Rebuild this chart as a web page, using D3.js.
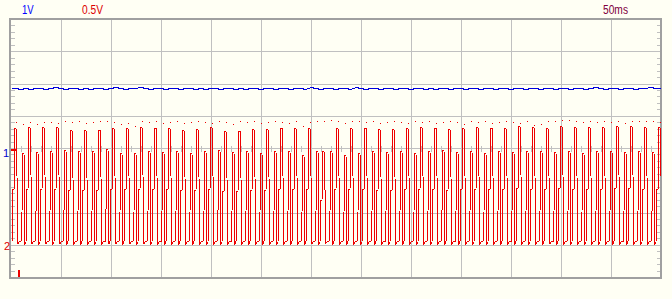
<!DOCTYPE html>
<html><head><meta charset="utf-8">
<script src="https://cdn.jsdelivr.net/npm/d3@7"></script>
<style>html,body{margin:0;padding:0;background:#fffff4;overflow:hidden}svg{display:block}</style>
</head><body>
<svg id="c" width="672" height="299"></svg>
<script>
// ---- labels / settings ----
const ch1Scale = "1V";
const ch2Scale = "0.5V";
const timeScale = "50ms";
const ch1VoltsPerDiv = 1;
const ch2VoltsPerDiv = 0.5;
const msPerDiv = 50;
const timeDivs = 13;
const ch1GroundDiv = 0;
const ch2GroundDiv = -3;
const triggerTime = 8;      // ms
const triggerLevel = 1.47;  // V on channel 2

// ---- channel 1 (blue), one sample each 5 ms, volts ----
const ch1Times = d3.range(0, 651, 5);
const ch1Volts = [
1.845,1.845,1.814,1.845,1.814,1.845,1.845,1.814,1.845,1.876,
1.845,1.814,1.845,1.845,1.814,1.845,1.814,1.845,1.845,1.814,
1.845,1.876,1.845,1.814,1.845,1.845,1.876,1.845,1.814,1.845,
1.845,1.814,1.845,1.845,1.814,1.845,1.845,1.814,1.845,1.814,
1.845,1.845,1.814,1.845,1.845,1.814,1.845,1.814,1.845,1.845,
1.814,1.845,1.845,1.814,1.845,1.845,1.814,1.845,1.845,1.814,
1.876,1.845,1.814,1.845,1.845,1.814,1.845,1.845,1.814,1.876,
1.845,1.814,1.845,1.845,1.814,1.845,1.845,1.814,1.845,1.845,
1.814,1.845,1.845,1.814,1.845,1.814,1.845,1.845,1.814,1.845,
1.845,1.814,1.845,1.845,1.814,1.845,1.845,1.814,1.845,1.845,
1.814,1.845,1.845,1.814,1.845,1.845,1.814,1.845,1.845,1.814,
1.845,1.845,1.814,1.845,1.845,1.814,1.845,1.876,1.845,1.814,
1.845,1.845,1.814,1.845,1.845,1.814,1.845,1.845,1.876,1.845,
1.845];

// ---- channel 2 (red) pulses: centre time (ms) and peak (V) ----
const tallTimes = [4.5,18.5,32.5,46.5,60.5,74.5,88.5,102.5,116.5,130.5,144.5,158.5,172.5,186.5,200.5,214.5,228.5,242.5,256.5,270.5,284.5,298.5,312.5,326.5,340.5,354.5,368.5,382.5,396.5,410.5,424.5,438.5,452.5,466.5,480.5,494.5,508.5,522.5,536.5,550.5,564.5,578.5,592.5,606.5,620.5,634.5,648.5];
const tallPeaks = [1.795,1.821,1.821,1.821,1.764,1.764,1.779,1.795,1.795,1.821,1.81,1.80,1.77,1.79,1.82,1.75,1.76,1.79,1.79,1.81,1.80,1.795,1.443,1.805,1.805,1.81,1.79,1.78,1.80,1.82,1.81,1.79,1.80,1.82,1.81,1.80,1.830,1.815,1.795,1.830,1.815,1.815,1.815,1.830,1.830,1.815,1.815];
const shortTimes = [12.5,26.5,40.5,54.5,68.5,82.5,96.5,110.5,124.5,138.5,152.5,166.5,180.5,194.5,208.5,222.5,236.5,250.5,264.5,278.5,292.5,306.5,320.5,334.5,348.5,362.5,376.5,390.5,404.5,418.5,432.5,446.5,460.5,474.5,488.5,502.5,516.5,530.5,544.5,558.5,572.5,586.5,600.5,614.5,628.5,642.5];
const shortPeaks = [1.418,1.427,1.443,1.458,1.443,1.443,1.484,1.418,1.418,1.443,1.43,1.45,1.42,1.44,1.46,1.43,1.44,1.42,1.45,1.44,1.391,1.443,1.45,1.391,1.418,1.44,1.43,1.45,1.42,1.44,1.46,1.43,1.44,1.42,1.45,1.43,1.44,1.45,1.43,1.44,1.42,1.44,1.443,1.43,1.44,1.427];
const ch2Baseline = 0.043;
// pulse outline: [offset ms, fraction of peak above baseline]
const tallShape = [[-3.5,0],[-2.5,0.46],[-1.5,0.46],[-0.5,1],[0.5,1],[1.5,0.58],[2.5,-0.015],[3.5,0]];
const shortShape = [[-2.5,0],[-1.5,0.34],[-0.5,1],[0.5,1],[1.5,-0.02]];

// ---- channel 2 peak dots, each 7 ms from 5 ms, volts ----
const dotStart = 5, dotStep = 7;
const dotVolts = [
1.898,1.872,1.908,1.877,1.908,1.908,1.892,1.923,1.908,1.923,
1.892,1.903,1.919,1.919,1.903,1.872,1.888,1.846,1.919,1.903,
1.919,1.892,1.908,1.919,1.888,1.903,1.919,1.908,1.892,1.919,
1.903,1.877,1.919,1.908,1.919,1.892,1.903,1.919,1.908,1.888,
1.919,1.841,1.903,1.919,1.919,1.934,1.919,1.888,1.919,1.919,
1.903,1.919,1.892,1.908,1.919,1.903,1.888,1.919,1.908,1.919,
1.892,1.903,1.919,1.908,1.877,1.919,1.903,1.919,1.892,1.908,
1.919,1.903,1.892,1.923,1.861,1.867,1.919,1.919,1.939,1.929,
1.919,1.903,1.919,1.903,1.919,1.898,1.914,1.892,1.919,1.919,
1.919,1.919,1.903];

// ---- drawing ----
const svg = d3.select("#c");
const bg = "#fffff4";
svg.append("rect").attr("width",672).attr("height",299).attr("fill",bg);

const L = 11, R = 661, T = 19, B = 277;
const x = d3.scaleLinear().domain([0, msPerDiv*timeDivs]).range([L, R]);
const yDiv = d3.scaleLinear().domain([-4, 4]).range([B, T]);
const y1 = v => yDiv(v/ch1VoltsPerDiv + ch1GroundDiv);
const y2 = v => yDiv(v/ch2VoltsPerDiv + ch2GroundDiv);

const grid = svg.append("g").attr("shape-rendering","crispEdges").attr("stroke","#c0c0c0").attr("stroke-width",1);
d3.range(1, timeDivs).forEach(i => {
  const xx = Math.round(x(i*msPerDiv)) + 0.5;
  grid.append("line").attr("x1",xx).attr("x2",xx).attr("y1",T).attr("y2",B);
});
d3.range(-3, 4).forEach(d => {
  const yy = Math.round(yDiv(d)) + 0.5;
  grid.append("line").attr("x1",L).attr("x2",R).attr("y1",yy).attr("y2",yy);
});
// minor ticks on left/right edge
d3.range(1, 40).forEach(j => {
  if (j % 5 === 0) return;
  const yy = Math.round(yDiv(-4 + j*0.2)) + 0.5;
  grid.append("line").attr("x1",L).attr("x2",L+4).attr("y1",yy).attr("y2",yy);
  grid.append("line").attr("x1",R-4).attr("x2",R).attr("y1",yy).attr("y2",yy);
});
// minor ticks along centre line
d3.range(1, 65).forEach(j => {
  if (j % 5 === 0) return;
  const xx = Math.round(x(j*10)) + 0.5;
  grid.append("line").attr("x1",xx).attr("x2",xx).attr("y1",yDiv(0)-2.5).attr("y2",yDiv(0)+3.5);
});

// frame
svg.append("rect").attr("x",L-1).attr("y",T-0.5).attr("width",R-L+1).attr("height",B-T+1)
  .attr("fill","none").attr("stroke","#a0a0a0").attr("stroke-width",2).attr("shape-rendering","crispEdges");

svg.append("clipPath").attr("id","plot").append("rect").attr("x",L+1).attr("y",T+1).attr("width",R-L-1).attr("height",B-T-1);
const traces = svg.append("g").attr("clip-path","url(#plot)");

// channel 1 trace
traces.append("path")
  .attr("d", d3.line().x((d,i)=>x(ch1Times[i])).y(d=>y1(d))(ch1Volts))
  .attr("fill","none").attr("stroke","#0000dd").attr("stroke-width",1).attr("shape-rendering","crispEdges");

// channel 2 trace
const pulses = [];
tallTimes.forEach((t,i)=>pulses.push({t, v:tallPeaks[i], shape:tallShape}));
shortTimes.forEach((t,i)=>pulses.push({t, v:shortPeaks[i], shape:shortShape}));
pulses.sort((a,b)=>a.t-b.t);
const redPts = [[0, ch2Baseline]];
pulses.forEach(p => p.shape.forEach(([dt,f]) => redPts.push([p.t+dt, ch2Baseline + f*(p.v-ch2Baseline)])));
traces.append("path")
  .attr("d", d3.line().x(d=>x(d[0])).y(d=>y2(d[1]))(redPts))
  .attr("fill","none").attr("stroke","#ee0000").attr("stroke-width",1).attr("stroke-linejoin","miter").attr("shape-rendering","crispEdges");

// peak dots
traces.selectAll("rect.dot").data(dotVolts).enter().append("rect").attr("class","dot")
  .attr("x",(d,i)=>Math.round(x(dotStart+i*dotStep))-0.5).attr("y",d=>Math.round(y2(d))-0.5)
  .attr("width",1.5).attr("height",1.5).attr("fill","#ee0000").attr("shape-rendering","crispEdges");

// trigger markers
svg.append("rect").attr("x",L).attr("y",Math.round(y2(triggerLevel))-1).attr("width",5).attr("height",2)
  .attr("fill","#ee0000").attr("shape-rendering","crispEdges");
svg.append("rect").attr("x",Math.round(x(triggerTime))-1).attr("y",B-7).attr("width",2).attr("height",7)
  .attr("fill","#ee0000").attr("shape-rendering","crispEdges");

// texts
const font = "'Liberation Sans', Arial, sans-serif";
function txt(s, xx, yy, col, size, len){
  const t = svg.append("text").attr("x",xx).attr("y",yy).attr("fill",col)
    .style("font-family",font).style("font-size",size+"px").text(s);
  if (len) t.attr("textLength",len).attr("lengthAdjust","spacingAndGlyphs");
  return t;
}
txt(ch1Scale, 22, 14, "#0000ff", 12.5, 11.6);
txt(ch2Scale, 82, 14, "#dd0000", 12.5, 21);
txt(timeScale, 603, 14, "#800040", 12.5, 25);
txt("1", 3, 157, "#0000cc", 11);
txt("2", 4, 250, "#dd0000", 11);
</script>
</body></html>
